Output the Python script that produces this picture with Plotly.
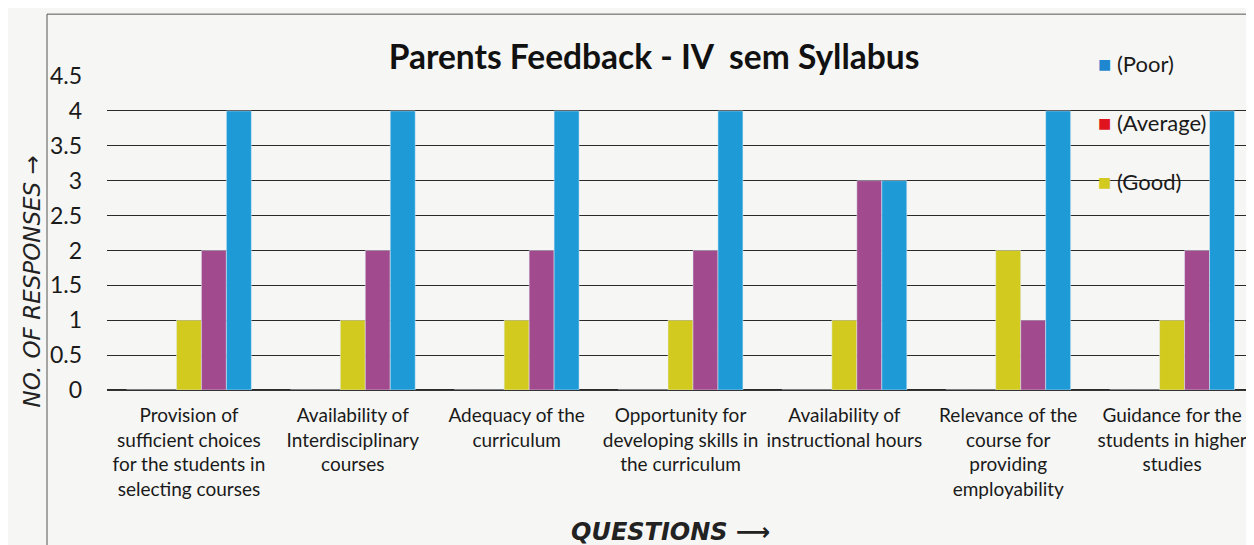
import plotly.graph_objects as go

questions = [
    "Provision of<br>sufficient choices<br>for the students in<br>selecting courses",
    "Availability of<br>Interdisciplinary<br>courses",
    "Adequacy of the<br>curriculum",
    "Opportunity for<br>developing skills in<br>the curriculum",
    "Availability of<br>instructional hours",
    "Relevance of the<br>course for<br>providing<br>employability",
    "Guidance for the<br>students in higher<br>studies",
]
excellent = [0, 0, 0, 0, 0, 0, 0]
very_good = [0, 0, 0, 0, 0, 0, 0]
good = [1, 1, 1, 1, 1, 2, 1]
average = [2, 2, 2, 2, 3, 1, 2]
poor = [4, 4, 4, 4, 3, 4, 4]
y_ticks = [0, 0.5, 1, 1.5, 2, 2.5, 3, 3.5, 4, 4.5]
legend_items = ["(Poor)", "(Average)", "(Good)"]

FONT = "Lato"
BG = "#f6f6f4"
YELLOW = "#d2ca1e"
PURPLE = "#a24a8e"
BLUE = "#1e9bd7"
legend_colors = ["#1f86d0", "#e0141e", YELLOW]

fig = go.Figure()
# two empty series keep the three visible bars right of each category centre, as on the sheet
fig.add_trace(go.Bar(x=questions, y=excellent, marker_color="rgba(0,0,0,0)", name="(Excellent)"))
fig.add_trace(go.Bar(x=questions, y=very_good, marker_color="rgba(0,0,0,0)", name="(Very Good)"))
fig.add_trace(go.Bar(x=questions, y=good, marker_color=YELLOW, name="(Good)"))
fig.add_trace(go.Bar(x=questions, y=average, marker_color=PURPLE, name="(Average)"))
fig.add_trace(go.Bar(x=questions, y=poor, marker_color=BLUE, name="(Poor)"))

annotations = []
for i, (name, col) in enumerate(zip(legend_items, legend_colors)):
    annotations.append(dict(
        text=f"<span style='color:{col}'>■</span> {name}",
        xref="paper", yref="paper", x=0.862, y=1.04 - i * 0.188,
        xanchor="left", yanchor="middle", showarrow=False,
        font=dict(size=22, family=FONT, color="#1a1a1a"),
    ))
annotations += [
    dict(text="<i>NO. OF RESPONSES →</i>", xref="paper", yref="paper", x=-0.065, y=0.347,
         textangle=-90, showarrow=False, font=dict(size=23, family="DejaVu Sans", color="#222"),
         xanchor="center", yanchor="middle"),
    dict(text="<b><i>QUESTIONS ⟶</i></b>", xref="paper", yref="paper", x=0.491, y=-0.452,
         showarrow=False, font=dict(size=24, family="DejaVu Sans", color="#222"),
         xanchor="center", yanchor="middle"),
]

fig.update_layout(
    width=1246,
    height=537,
    paper_bgcolor=BG,
    plot_bgcolor=BG,
    barmode="group",
    bargap=0.238,
    bargroupgap=0,
    showlegend=False,
    margin=dict(l=99, r=0, t=68, b=155),
    font=dict(family=FONT, color="#1a1a1a", size=19),
    title=dict(
        text="<b>Parents Feedback - IV  sem Syllabus</b>",
        x=0.5185, xanchor="center", y=0.909, yanchor="middle",
        font=dict(size=33.5, family=FONT, color="#111"),
    ),
    shapes=[
        dict(type="line", xref="paper", yref="paper", x0=-0.0523, x1=1.0, y0=1.197, y1=1.197,
             line=dict(color="#555", width=1)),
        dict(type="line", xref="paper", yref="paper", x0=-0.0523, x1=-0.0523, y0=1.197, y1=-0.6,
             line=dict(color="#555", width=1)),
    ],
    annotations=annotations,
)
fig.update_xaxes(
    showgrid=False, showline=True, linecolor="#333", linewidth=1,
    ticks="", tickfont=dict(size=19), tickangle=0, ticklabelstandoff=8,
)
fig.update_yaxes(
    range=[0, 4.5], tickvals=y_ticks, ticktext=[f"{v:g}" for v in y_ticks],
    showgrid=True, gridcolor="#2a2a2a", gridwidth=1, zeroline=True, zerolinecolor="#2a2a2a",
    showline=False, ticks="", tickfont=dict(size=23), ticklabelstandoff=24,
)

fig.write_html("out.html")
